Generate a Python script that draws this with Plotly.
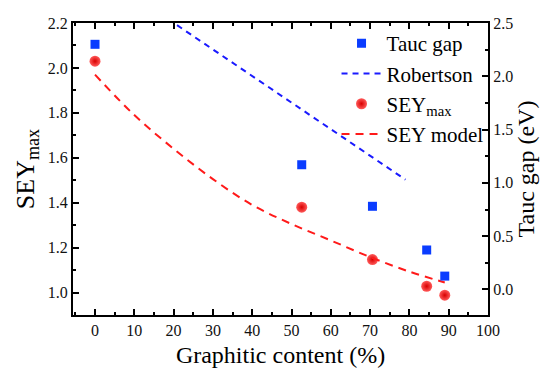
import plotly.graph_objects as go

# Data
graphitic = [0, 52.6, 70.6, 84.4, 89.0]
tauc_gap = [2.30, 1.17, 0.78, 0.37, 0.125]
sey_max = [2.03, 1.38, 1.147, 1.028, 0.988]

robertson_x = [0, 79]
robertson_y = [3.0, 1.03]

model_x = [0, 10, 20, 30, 40, 50, 60, 70, 80, 89]
model_y = [1.97, 1.79, 1.64, 1.505, 1.39, 1.305, 1.232, 1.158, 1.093, 1.045]

FONT = "Liberation Serif, Times New Roman, serif"

fig = go.Figure()
fig.add_trace(go.Scatter(
    x=graphitic, y=tauc_gap, mode="markers", name="Tauc gap", yaxis="y2",
    marker=dict(symbol="square", size=9, color="#0a3cff"),
))
fig.add_trace(go.Scatter(
    x=robertson_x, y=robertson_y, mode="lines", name="Robertson", yaxis="y2",
    line=dict(color="#1a1aff", width=2, dash="6px,5px"),
))
fig.add_trace(go.Scatter(
    x=graphitic, y=sey_max, mode="markers", name="SEY<sub>max</sub>",
    marker=dict(symbol="circle", size=11, color="#ff5a5a",
                gradient=dict(type="radial", color="#d80000"),
                line=dict(width=0)),
))
fig.add_trace(go.Scatter(
    x=model_x, y=model_y, mode="lines", name="SEY model",
    line=dict(color="#ff1a1a", width=2, dash="8px,6px", shape="spline", smoothing=1.0),
))

axis_common = dict(
    showline=True, linecolor="black", linewidth=2, ticks="inside",
    ticklen=6, tickwidth=1.5, tickcolor="black", showgrid=False, zeroline=False,
    automargin=False,
    tickfont=dict(family=FONT, size=16, color="#111"),
)

fig.update_layout(
    width=550, height=371,
    margin=dict(l=73, r=62, t=23, b=56),
    paper_bgcolor="white", plot_bgcolor="white",
    font=dict(family=FONT, color="black"),
    showlegend=True,
    legend=dict(x=0.635, y=1.0, xanchor="left", yanchor="top",
                bgcolor="rgba(0,0,0,0)", font=dict(family=FONT, size=21, color="black"),
                tracegroupgap=0, itemwidth=40),
    xaxis=dict(
        range=[-5.6, 100], dtick=10, tick0=0, mirror="ticks",
        minor=dict(dtick=5, ticks="inside", ticklen=3, tickcolor="black"),
        title=dict(text="Graphitic content (%)", font=dict(family=FONT, size=24), standoff=8),
        **axis_common,
    ),
    yaxis=dict(
        range=[0.9, 2.2], dtick=0.2, tick0=1.0, tickformat=".1f",
        minor=dict(dtick=0.1, ticks="inside", ticklen=3, tickcolor="black"),
        title=dict(text="SEY<sub>max</sub>", font=dict(family=FONT, size=26), standoff=6),
        **axis_common,
    ),
    yaxis2=dict(
        range=[-0.24, 2.5], dtick=0.5, tick0=0, tickformat=".1f",
        overlaying="y", side="right",
        minor=dict(dtick=0.25, ticks="inside", ticklen=3, tickcolor="black"),
        title=dict(text="Tauc gap (eV)", font=dict(family=FONT, size=24), standoff=4),
        **axis_common,
    ),
)

fig.write_html("out.html", config={"displayModeBar": False},
               post_script="document.body.style.margin='0';document.body.style.overflow='hidden';")
